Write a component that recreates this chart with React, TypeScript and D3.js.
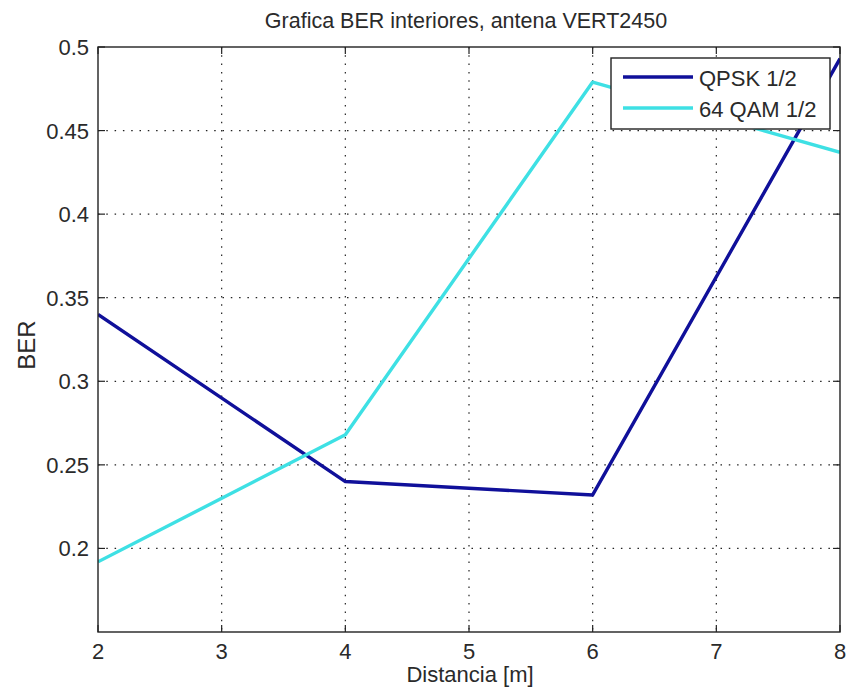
import React from "react";
import * as d3 from "d3";

const distances = [2, 4, 6, 8];
const qpskBER = [0.34, 0.24, 0.232, 0.493];
const qam64BER = [0.192, 0.268, 0.479, 0.437];
const xTicks = [2, 3, 4, 5, 6, 7, 8];
const yTicks = [0.2, 0.25, 0.3, 0.35, 0.4, 0.45, 0.5];
const seriesNames = ["QPSK 1/2", "64 QAM 1/2"];
const seriesColors = ["#10109a", "#3ee0e4"];

const W = 852, H = 696;
const L = 98, R = 840, T = 47, B = 632;
const FONT = "'Liberation Sans', Arial, sans-serif";

export default function App() {
  const x = d3.scaleLinear().domain([2, 8]).range([L, R]);
  const y = d3.scaleLinear().domain([0.15, 0.5]).range([B, T]);
  const line = d3.line<[number, number]>().x(d => x(d[0])).y(d => y(d[1]));
  const series = [qpskBER, qam64BER].map(v => distances.map((d, i) => [d, v[i]] as [number, number]));
  const fmt = (v: number) => String(+v.toFixed(2));
  const tickLen = 7;
  return (
    <svg width={W} height={H} style={{ position: "absolute", left: 0, top: 0, background: "#fff" }} fontFamily={FONT}>
      <rect x={0} y={0} width={W} height={H} fill="#fff" />
      <rect x={L} y={T} width={R - L} height={B - T} fill="#fff" />
      {/* grid */}
      {xTicks.slice(1, -1).map(t => (
        <line key={"gx" + t} x1={x(t)} x2={x(t)} y1={T} y2={B} stroke="#222" strokeWidth={1.2} strokeDasharray="1.5 6.8" />
      ))}
      {yTicks.slice(0, -1).map(t => (
        <line key={"gy" + t} x1={L} x2={R} y1={y(t)} y2={y(t)} stroke="#222" strokeWidth={1.2} strokeDasharray="1.5 6.8" />
      ))}
      {/* ticks */}
      {xTicks.map(t => (
        <g key={"tx" + t}>
          <line x1={x(t)} x2={x(t)} y1={B} y2={B - tickLen} stroke="#222" strokeWidth={1.2} />
          <line x1={x(t)} x2={x(t)} y1={T} y2={T + tickLen} stroke="#222" strokeWidth={1.2} />
          <text x={x(t)} y={659} textAnchor="middle" fontSize={22} fill="#2a2a2a">{t}</text>
        </g>
      ))}
      {yTicks.map(t => (
        <g key={"ty" + t}>
          <line x1={L} x2={L + tickLen} y1={y(t)} y2={y(t)} stroke="#222" strokeWidth={1.2} />
          <line x1={R} x2={R - tickLen} y1={y(t)} y2={y(t)} stroke="#222" strokeWidth={1.2} />
          <text x={89} y={y(t) + 8} textAnchor="end" fontSize={22} fill="#2a2a2a">{fmt(t)}</text>
        </g>
      ))}
      {/* data */}
      <defs>
        <clipPath id="plotclip"><rect x={L} y={T} width={R - L} height={B - T} /></clipPath>
      </defs>
      <g clipPath="url(#plotclip)">
        {series.map((s, i) => (
          <path key={"s" + i} d={line(s) || ""} fill="none" stroke={seriesColors[i]} strokeWidth={3.4} strokeLinejoin="round" />
        ))}
      </g>
      {/* frame */}
      <rect x={L} y={T} width={R - L} height={B - T} fill="none" stroke="#222" strokeWidth={1.4} />
      {/* legend */}
      <rect x={611} y={58} width={219} height={71} fill="#fff" stroke="#222" strokeWidth={1.4} />
      {seriesNames.map((n, i) => (
        <g key={"lg" + i}>
          <line x1={623} x2={693} y1={77 + i * 31} y2={77 + i * 31} stroke={seriesColors[i]} strokeWidth={3.4} />
          <text x={699} y={86 + i * 31} fontSize={22} fill="#2a2a2a">{n}</text>
        </g>
      ))}
      {/* labels */}
      <text x={466} y={28} textAnchor="middle" fontSize={21.5} fill="#2a2a2a">Grafica BER interiores, antena VERT2450</text>
      <text x={470} y={682} textAnchor="middle" fontSize={22} fill="#2a2a2a">Distancia [m]</text>
      <text transform={`translate(35,${345}) rotate(-90)`} textAnchor="middle" fontSize={24} fill="#2a2a2a">BER</text>
    </svg>
  );
}
